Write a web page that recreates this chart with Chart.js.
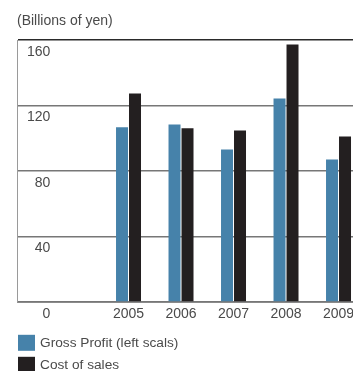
<!DOCTYPE html>
<html>
<head>
<meta charset="utf-8">
<script src="https://cdn.jsdelivr.net/npm/chart.js@4/dist/chart.umd.min.js"></script>
<style>
  html, body { margin: 0; padding: 0; overflow: hidden; background: #fff; }
  #wrap { width: 353px; height: 371px; overflow: hidden; }
</style>
</head>
<body>
<div id="wrap">
  <canvas id="ProfitChart" width="400" height="371"></canvas>
</div>
<script>
// fiscal years and values (billions of yen)
const years = [2005, 2006, 2007, 2008, 2009];
const grossProfit = [106.7, 108.4, 93.1, 124.3, 87.0];
const costOfSales = [127.3, 106.1, 104.7, 157.3, 101.1];
const yTicks = [0, 40, 80, 120, 160];

const textColor = "#4a4a4a";
const fontFamily = "'Liberation Sans', Arial, Helvetica, sans-serif";

// stacked legend under the axis, one entry per row
const rowLegend = {
    id: "rowLegend",
    afterDraw(chart) {
        const ctx = chart.ctx;
        const left = chart.chartArea.left + 1;
        let top = chart.scales.x.bottom + 8;
        ctx.save();
        ctx.font = "13.7px " + fontFamily;
        ctx.textBaseline = "middle";
        chart.data.datasets.forEach(ds => {
            ctx.fillStyle = ds.backgroundColor;
            ctx.fillRect(left, top, 17, 16);
            ctx.fillStyle = textColor;
            ctx.fillText(ds.label, left + 22, top + 8);
            top += 22;
        });
        ctx.restore();
    }
};

const ctx = document.getElementById("ProfitChart").getContext("2d");

new Chart(ctx, {
    type: "bar",
    data: {
        datasets: [
            {
                label: "Gross Profit (left scals)",
                data: years.map((yr, i) => ({ x: yr, y: grossProfit[i] })),
                backgroundColor: "#4682aa",
                categoryPercentage: 0.495,
                barPercentage: 0.923
            },
            {
                label: "Cost of sales",
                data: years.map((yr, i) => ({ x: yr, y: costOfSales[i] })),
                backgroundColor: "#231f20",
                categoryPercentage: 0.495,
                barPercentage: 0.923
            }
        ]
    },
    options: {
        responsive: false,
        animation: false,
        layout: { padding: { left: 17, top: 0, right: 0, bottom: 44.2 } },
        plugins: {
            legend: { display: false },
            tooltip: { enabled: false },
            title: {
                display: true,
                text: "(Billions of yen)",
                align: "start",
                color: textColor,
                font: { family: fontFamily, size: 14, weight: "normal", lineHeight: 1.2 },
                padding: { top: 13, bottom: 10.2 }
            }
        },
        scales: {
            x: {
                type: "linear",
                offset: false,
                min: 2002.876,
                max: 2010.171,
                grid: { display: false, drawTicks: false, offset: false },
                border: { display: true, color: "#8a8a8a", width: 1 },
                ticks: {
                    stepSize: 1,
                    includeBounds: false,
                    padding: 4,
                    color: textColor,
                    font: { family: fontFamily, size: 14 },
                    callback: v => years.includes(v) ? String(v) : ""
                }
            },
            y: {
                min: yTicks[0],
                max: yTicks[yTicks.length - 1],
                afterFit(scale) { scale.width = 0; },
                grid: {
                    drawTicks: false,
                    lineWidth: 1.5,
                    color: c => c.tick && c.tick.value === 160 ? "#2a2a2a" : "#777777"
                },
                border: { display: true, color: "#9a9a9a", width: 1 },
                afterBuildTicks(scale) { scale.ticks = yTicks.map(v => ({ value: v })); },
                ticks: {
                    mirror: true,
                    crossAlign: "far",
                    padding: 10,
                    labelOffset: 12,
                    color: textColor,
                    font: { family: fontFamily, size: 14 }
                }
            }
        }
    },
    plugins: [rowLegend]
});
</script>
</body>
</html>
